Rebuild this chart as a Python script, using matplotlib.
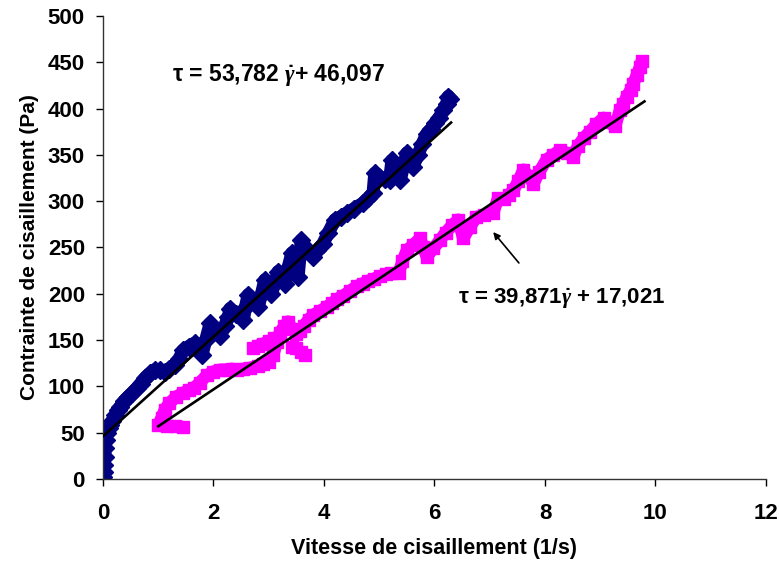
import numpy as np
import matplotlib
matplotlib.use("Agg")
import matplotlib.pyplot as plt

plt.rcParams['font.family'] = ['Liberation Sans', 'DejaVu Sans']
plt.rcParams['font.weight'] = 'bold'
plt.rcParams['mathtext.fontset'] = 'custom'
plt.rcParams['mathtext.it'] = 'Liberation Serif:italic'
plt.rcParams['mathtext.rm'] = 'Liberation Sans:bold'

nan = np.nan

# Series 1 (navy diamonds)
blue_x = [0.0, 0.01, 0.02, 0.03, 0.04, 0.05, 0.07, 0.1, 0.13, 0.17, 0.22, 0.27, 0.31, 0.38, 0.46,
          0.53, 0.61, 0.68, 0.76, 0.85, 0.94, 1.03, 1.12, 1.2, 1.3, 1.38, 1.45, 1.55, 1.67, 1.73,
          1.79, 1.86, 1.94, 2.03, 2.12, 2.2, 2.27, 2.3, 2.4, 2.54, 2.58, 2.63, 2.72, 2.81, 2.87,
          2.93, 3.0, 3.05, 3.11, 3.17, 3.23, 3.29, 3.35, 3.42, 3.48, 3.53, 3.59, 3.66, 3.73, 3.8,
          3.88, 3.98, 4.08, 4.2, 4.3, 4.41, 4.55, 4.71, 4.8, 4.89, 4.92, 5.0, 5.1, 5.19, 5.23,
          5.3, 5.38, 5.44, 5.5, 5.61, 5.7, 5.78, 5.86, 5.94, 6.01, 6.08, 6.16, 6.22, 6.25, 6.28]
blue_y = [2, 8, 15, 24, 33, 42, 50, 55, 58, 63, 69, 74, 78, 84, 89,
          93, 98, 103, 109, 114, 118, 118, 116, 119, 123, 130, 139, 143, 147, 141,
          134, 150, 168, 162, 154, 165, 175, 184, 178, 172, 186, 199, 192, 186, 200,
          215, 207, 200, 212, 224, 218, 211, 228, 244, 230, 218, 258, 250, 245, 240,
          247, 254, 266, 280, 283, 287, 292, 298, 303, 309, 330, 326, 324, 323, 344,
          334, 323, 338, 352, 337, 350, 362, 373, 378, 384, 390, 398, 405, 413, 410]

# Series 2 (magenta squares); nan separates detached pieces
mag_x = [1.45, 1.3, 1.15, 1.0, 1.06, 1.12, 1.2, 1.33, 1.45, 1.55, 1.64, 1.75, 1.88, 2.0, 2.12,
         2.24, 2.33, 2.42, 2.54, 2.66, 2.8, 2.9, 3.0, 3.08, 3.15, 3.2, 3.28, 3.35, 3.42, 3.5,
         3.56, 3.63, 3.72, 3.8, 3.92, 4.05, 4.15, 4.23, 4.35, 4.47, 4.59, 4.7, 4.8, 4.9, 5.01,
         5.12, 5.22, 5.35, 5.42, 5.5, 5.62, 5.74, 5.8, 5.86, 5.98, 6.1, 6.2, 6.32, 6.43, 6.52,
         6.64, 6.76, 6.9, 7.06, 7.15, 7.25, 7.35, 7.43, 7.52, 7.61, 7.7, 7.79, 7.9, 8.03, 8.15,
         8.27, 8.4, 8.51, 8.6, 8.7, 8.81, 8.93, 9.06, 9.15, 9.27, 9.36, 9.42, 9.48, 9.55, 9.6,
         9.66, 9.72, 9.75, 9.75,
         2.72, 2.8, 2.9, 3.0, 3.1, 3.1,
         3.42, 3.5, 3.58, 3.65]
mag_y = [56, 57, 57, 58, 66, 75, 82, 89, 93, 96, 98, 104, 112, 116, 118,
         118, 119, 118, 119, 120, 122, 124, 126, 134, 148, 158, 165, 170, 162, 157,
         160, 165, 172, 177, 181, 186, 190, 194, 198, 203, 208, 211, 214, 216, 219,
         221, 222, 222, 235, 247, 253, 260, 250, 240, 249, 258, 266, 274, 280, 260,
         272, 283, 285, 287, 303, 302, 307, 312, 322, 334, 327, 319, 332, 345, 350,
         355, 352, 348, 360, 368, 375, 383, 390, 385, 381, 399, 405, 413, 420, 427,
         436, 445, 451, nan,
         141, 144, 146, 149, 152, nan,
         143, 141, 137, 134]

# Linear fits shown on the chart
fit1_slope, fit1_icpt, fit1_range = 53.782, 46.097, (0.0, 6.3)
fit2_slope, fit2_icpt, fit2_range = 39.871, 17.021, (1.0, 9.8)

x_ticks = [0, 2, 4, 6, 8, 10, 12]
y_ticks = list(range(0, 501, 50))

fig = plt.figure(figsize=(7.79, 5.65), dpi=100)
ax = fig.add_axes([0.1322, 0.1522, 0.8511, 0.8195])

ax.plot(blue_x, blue_y, color='#000080', lw=9.5, solid_capstyle='round', solid_joinstyle='round', zorder=2)
ax.plot(blue_x, blue_y, ls='none', marker='D', ms=9, color='#000080', zorder=2)
ax.plot(mag_x, mag_y, color='#FF00FF', lw=9, solid_capstyle='butt', solid_joinstyle='round', zorder=2)
ax.plot(mag_x, mag_y, ls='none', marker='s', ms=8, color='#FF00FF', zorder=2)

fx1 = np.array(fit1_range)
ax.plot(fx1, fit1_slope * fx1 + fit1_icpt, color='black', lw=1.9, zorder=3)
fx2 = np.array(fit2_range)
ax.plot(fx2, fit2_slope * fx2 + fit2_icpt, color='black', lw=1.9, zorder=3)

ax.text(3.17, 436, r'τ = 53,782 $\dot{\gamma}$+ 46,097', ha='center', va='center',
        fontsize=16.5, fontweight='bold')
ax.text(8.31, 195, r'τ = 39,871$\dot{\gamma}$ + 17,021', ha='center', va='center',
        fontsize=16, fontweight='bold')
ax.annotate('', xy=(7.03, 269), xytext=(7.56, 231),
            arrowprops=dict(arrowstyle='-|>', color='black', lw=1.2, mutation_scale=10))

ax.set_xlim(0, 12)
ax.set_ylim(0, 500)
ax.set_xticks(x_ticks)
ax.set_yticks(y_ticks)
ax.tick_params(direction='out', length=5, width=1, labelsize=16, pad=12, colors='black')
ax.tick_params(axis='y', pad=8)
for lab in ax.get_xticklabels() + ax.get_yticklabels():
    lab.set_fontweight('bold')
    lab.set_fontsize(16)
for s in ['top', 'right']:
    ax.spines[s].set_visible(False)
for s in ['left', 'bottom']:
    ax.spines[s].set_color('#333333')
    ax.spines[s].set_linewidth(1)

ax.set_xlabel('Vitesse de cisaillement (1/s)', fontsize=15.5, fontweight='bold', labelpad=10)
ax.set_ylabel('Contrainte de cisaillement (Pa)', fontsize=15, fontweight='bold', labelpad=6)

fig.savefig('out.png', dpi=100)
